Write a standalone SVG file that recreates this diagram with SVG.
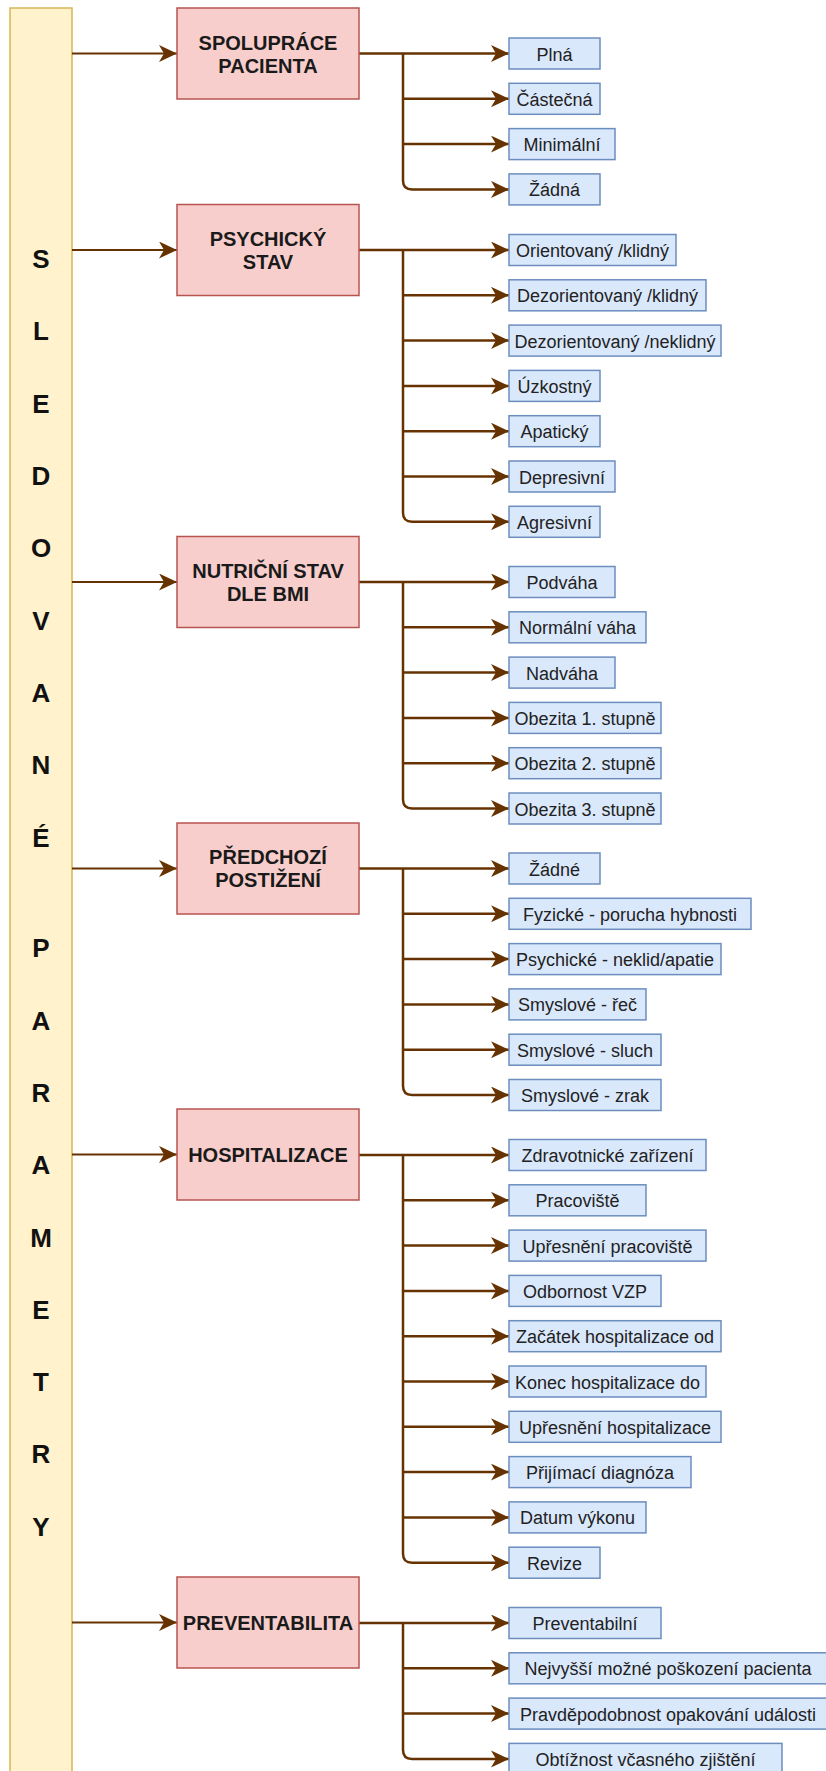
<svg xmlns="http://www.w3.org/2000/svg" width="826" height="1771" viewBox="0 0 826 1771">
  <style>
    .bar { fill: #fff2cc; stroke: #d6b656; stroke-width: 1.5; }
    .main { fill: #f8cecc; stroke: #b85450; stroke-width: 1.5; }
    .leaf { fill: #dae8fc; stroke: #6c8ebf; stroke-width: 1.5; }
    .vt { font-family: "Liberation Sans", Arial, sans-serif; font-weight: bold; font-size: 26px; fill: #111; text-anchor: middle; }
    .mt { font-family: "Liberation Sans", Arial, sans-serif; font-weight: bold; font-size: 20px; fill: #1a1a1a; text-anchor: middle; }
    .lt { font-family: "Liberation Sans", Arial, sans-serif; font-size: 18px; fill: #222; text-anchor: middle; }
    .edge { fill: none; stroke: #663300; stroke-width: 2.5; }
    .feed { fill: none; stroke: #663300; stroke-width: 2; }
  </style>
  <defs>
    <marker id="arrow" markerUnits="userSpaceOnUse" markerWidth="19" markerHeight="18" refX="18" refY="8.5" orient="auto">
      <path d="M0,0 L18,8.5 L0,17 L5,8.5 Z" fill="#663300"/>
    </marker>
  </defs>
  <rect width="826" height="1771" fill="#ffffff"/>

  <!-- vertical title bar -->
  <g id="title-bar">
    <rect class="bar" x="10" y="8" width="62" height="1780"/>
    <text class="vt" x="41" y="268">S</text>
    <text class="vt" x="41" y="340">L</text>
    <text class="vt" x="41" y="413">E</text>
    <text class="vt" x="41" y="485">D</text>
    <text class="vt" x="41" y="557">O</text>
    <text class="vt" x="41" y="630">V</text>
    <text class="vt" x="41" y="702">A</text>
    <text class="vt" x="41" y="774">N</text>
    <text class="vt" x="41" y="847">É</text>
    <text class="vt" x="41" y="957">P</text>
    <text class="vt" x="41" y="1030">A</text>
    <text class="vt" x="41" y="1102">R</text>
    <text class="vt" x="41" y="1174">A</text>
    <text class="vt" x="41" y="1247">M</text>
    <text class="vt" x="41" y="1319">E</text>
    <text class="vt" x="41" y="1391">T</text>
    <text class="vt" x="41" y="1463">R</text>
    <text class="vt" x="41" y="1536">Y</text>
  </g>

  <!-- connectors -->
  <g id="connectors">
    <!-- bar to categories -->
    <path class="feed" d="M72,53.5 H177" marker-end="url(#arrow)"/>
    <path class="feed" d="M72,250 H177" marker-end="url(#arrow)"/>
    <path class="feed" d="M72,582 H177" marker-end="url(#arrow)"/>
    <path class="feed" d="M72,868.5 H177" marker-end="url(#arrow)"/>
    <path class="feed" d="M72,1154.5 H177" marker-end="url(#arrow)"/>
    <path class="feed" d="M72,1622.5 H177" marker-end="url(#arrow)"/>

    <!-- spolupráce -->
    <path class="edge" d="M359,53.5 H509" marker-end="url(#arrow)"/>
    <path class="edge" d="M403,98.8 H509" marker-end="url(#arrow)"/>
    <path class="edge" d="M403,144.1 H509" marker-end="url(#arrow)"/>
    <path class="edge" d="M403,53.5 V180.4 Q403,189.4 412,189.4 H509" marker-end="url(#arrow)"/>

    <!-- psychický stav -->
    <path class="edge" d="M359,250 H509" marker-end="url(#arrow)"/>
    <path class="edge" d="M403,295.3 H509" marker-end="url(#arrow)"/>
    <path class="edge" d="M403,340.6 H509" marker-end="url(#arrow)"/>
    <path class="edge" d="M403,385.9 H509" marker-end="url(#arrow)"/>
    <path class="edge" d="M403,431.2 H509" marker-end="url(#arrow)"/>
    <path class="edge" d="M403,476.5 H509" marker-end="url(#arrow)"/>
    <path class="edge" d="M403,250 V512.8 Q403,521.8 412,521.8 H509" marker-end="url(#arrow)"/>

    <!-- nutriční stav -->
    <path class="edge" d="M359,582 H509" marker-end="url(#arrow)"/>
    <path class="edge" d="M403,627.3 H509" marker-end="url(#arrow)"/>
    <path class="edge" d="M403,672.6 H509" marker-end="url(#arrow)"/>
    <path class="edge" d="M403,717.9 H509" marker-end="url(#arrow)"/>
    <path class="edge" d="M403,763.2 H509" marker-end="url(#arrow)"/>
    <path class="edge" d="M403,582 V799.5 Q403,808.5 412,808.5 H509" marker-end="url(#arrow)"/>

    <!-- předchozí postižení -->
    <path class="edge" d="M359,868.5 H509" marker-end="url(#arrow)"/>
    <path class="edge" d="M403,913.8 H509" marker-end="url(#arrow)"/>
    <path class="edge" d="M403,959.1 H509" marker-end="url(#arrow)"/>
    <path class="edge" d="M403,1004.4 H509" marker-end="url(#arrow)"/>
    <path class="edge" d="M403,1049.7 H509" marker-end="url(#arrow)"/>
    <path class="edge" d="M403,868.5 V1086 Q403,1095 412,1095 H509" marker-end="url(#arrow)"/>

    <!-- hospitalizace -->
    <path class="edge" d="M359,1155 H509" marker-end="url(#arrow)"/>
    <path class="edge" d="M403,1200.3 H509" marker-end="url(#arrow)"/>
    <path class="edge" d="M403,1245.6 H509" marker-end="url(#arrow)"/>
    <path class="edge" d="M403,1290.9 H509" marker-end="url(#arrow)"/>
    <path class="edge" d="M403,1336.2 H509" marker-end="url(#arrow)"/>
    <path class="edge" d="M403,1381.5 H509" marker-end="url(#arrow)"/>
    <path class="edge" d="M403,1426.8 H509" marker-end="url(#arrow)"/>
    <path class="edge" d="M403,1472.1 H509" marker-end="url(#arrow)"/>
    <path class="edge" d="M403,1517.4 H509" marker-end="url(#arrow)"/>
    <path class="edge" d="M403,1155 V1553.7 Q403,1562.7 412,1562.7 H509" marker-end="url(#arrow)"/>

    <!-- preventabilita -->
    <path class="edge" d="M359,1623 H509" marker-end="url(#arrow)"/>
    <path class="edge" d="M403,1668.3 H509" marker-end="url(#arrow)"/>
    <path class="edge" d="M403,1713.6 H509" marker-end="url(#arrow)"/>
    <path class="edge" d="M403,1623 V1749.9 Q403,1758.9 412,1758.9 H509" marker-end="url(#arrow)"/>
  </g>

  <!-- category nodes -->
  <g id="spoluprace">
    <rect class="main" x="177" y="8" width="182" height="91"/>
    <text class="mt" x="268" y="50">SPOLUPRÁCE</text>
    <text class="mt" x="268" y="73">PACIENTA</text>
  </g>
  <g id="psychicky-stav">
    <rect class="main" x="177" y="204.5" width="182" height="91"/>
    <text class="mt" x="268" y="246">PSYCHICKÝ</text>
    <text class="mt" x="268" y="269">STAV</text>
  </g>
  <g id="nutricni-stav">
    <rect class="main" x="177" y="536.5" width="182" height="91"/>
    <text class="mt" x="268" y="578">NUTRIČNÍ STAV</text>
    <text class="mt" x="268" y="601">DLE BMI</text>
  </g>
  <g id="predchozi-postizeni">
    <rect class="main" x="177" y="823" width="182" height="91"/>
    <text class="mt" x="268" y="864">PŘEDCHOZÍ</text>
    <text class="mt" x="268" y="887">POSTIŽENÍ</text>
  </g>
  <g id="hospitalizace">
    <rect class="main" x="177" y="1109" width="182" height="91"/>
    <text class="mt" x="268" y="1162">HOSPITALIZACE</text>
  </g>
  <g id="preventabilita">
    <rect class="main" x="177" y="1577" width="182" height="91"/>
    <text class="mt" x="268" y="1630">PREVENTABILITA</text>
  </g>

  <!-- option nodes: spolupráce -->
  <g id="plna"><rect class="leaf" x="509" y="38" width="91" height="31"/><text class="lt" x="554.5" y="60.5">Plná</text></g>
  <g id="castecna"><rect class="leaf" x="509" y="83.3" width="91" height="31"/><text class="lt" x="554.5" y="105.8">Částečná</text></g>
  <g id="minimalni"><rect class="leaf" x="509" y="128.6" width="106" height="31"/><text class="lt" x="562" y="151.1">Minimální</text></g>
  <g id="zadna"><rect class="leaf" x="509" y="173.9" width="91" height="31"/><text class="lt" x="554.5" y="196.4">Žádná</text></g>

  <!-- option nodes: psychický stav -->
  <g id="orientovany-klidny"><rect class="leaf" x="509" y="234.5" width="167" height="31"/><text class="lt" x="592.5" y="257">Orientovaný /klidný</text></g>
  <g id="dezorientovany-klidny"><rect class="leaf" x="509" y="279.8" width="197" height="31"/><text class="lt" x="607.5" y="302.3">Dezorientovaný /klidný</text></g>
  <g id="dezorientovany-neklidny"><rect class="leaf" x="509" y="325.1" width="212" height="31"/><text class="lt" x="615" y="347.6">Dezorientovaný /neklidný</text></g>
  <g id="uzkostny"><rect class="leaf" x="509" y="370.4" width="91" height="31"/><text class="lt" x="554.5" y="392.9">Úzkostný</text></g>
  <g id="apaticky"><rect class="leaf" x="509" y="415.7" width="91" height="31"/><text class="lt" x="554.5" y="438.2">Apatický</text></g>
  <g id="depresivni"><rect class="leaf" x="509" y="461" width="106" height="31"/><text class="lt" x="562" y="483.5">Depresivní</text></g>
  <g id="agresivni"><rect class="leaf" x="509" y="506.3" width="91" height="31"/><text class="lt" x="554.5" y="528.8">Agresivní</text></g>

  <!-- option nodes: nutriční stav -->
  <g id="podvaha"><rect class="leaf" x="509" y="566.5" width="106" height="31"/><text class="lt" x="562" y="589">Podváha</text></g>
  <g id="normalni-vaha"><rect class="leaf" x="509" y="611.8" width="137" height="31"/><text class="lt" x="577.5" y="634.3">Normální váha</text></g>
  <g id="nadvaha"><rect class="leaf" x="509" y="657.1" width="106" height="31"/><text class="lt" x="562" y="679.6">Nadváha</text></g>
  <g id="obezita-1"><rect class="leaf" x="509" y="702.4" width="152" height="31"/><text class="lt" x="585" y="724.9">Obezita 1. stupně</text></g>
  <g id="obezita-2"><rect class="leaf" x="509" y="747.7" width="152" height="31"/><text class="lt" x="585" y="770.2">Obezita 2. stupně</text></g>
  <g id="obezita-3"><rect class="leaf" x="509" y="793" width="152" height="31"/><text class="lt" x="585" y="815.5">Obezita 3. stupně</text></g>

  <!-- option nodes: předchozí postižení -->
  <g id="zadne"><rect class="leaf" x="509" y="853" width="91" height="31"/><text class="lt" x="554.5" y="875.5">Žádné</text></g>
  <g id="fyzicke"><rect class="leaf" x="509" y="898.3" width="242" height="31"/><text class="lt" x="630" y="920.8">Fyzické - porucha hybnosti</text></g>
  <g id="psychicke"><rect class="leaf" x="509" y="943.6" width="212" height="31"/><text class="lt" x="615" y="966.1">Psychické - neklid/apatie</text></g>
  <g id="smyslove-rec"><rect class="leaf" x="509" y="988.9" width="137" height="31"/><text class="lt" x="577.5" y="1011.4">Smyslové - řeč</text></g>
  <g id="smyslove-sluch"><rect class="leaf" x="509" y="1034.2" width="152" height="31"/><text class="lt" x="585" y="1056.7">Smyslové - sluch</text></g>
  <g id="smyslove-zrak"><rect class="leaf" x="509" y="1079.5" width="152" height="31"/><text class="lt" x="585" y="1102">Smyslové - zrak</text></g>

  <!-- option nodes: hospitalizace -->
  <g id="zdravotnicke-zarizeni"><rect class="leaf" x="509" y="1139.5" width="197" height="31"/><text class="lt" x="607.5" y="1162">Zdravotnické zařízení</text></g>
  <g id="pracoviste"><rect class="leaf" x="509" y="1184.8" width="137" height="31"/><text class="lt" x="577.5" y="1207.3">Pracoviště</text></g>
  <g id="upresneni-pracoviste"><rect class="leaf" x="509" y="1230.1" width="197" height="31"/><text class="lt" x="607.5" y="1252.6">Upřesnění pracoviště</text></g>
  <g id="odbornost-vzp"><rect class="leaf" x="509" y="1275.4" width="152" height="31"/><text class="lt" x="585" y="1297.9">Odbornost VZP</text></g>
  <g id="zacatek-hospitalizace"><rect class="leaf" x="509" y="1320.7" width="212" height="31"/><text class="lt" x="615" y="1343.2">Začátek hospitalizace od</text></g>
  <g id="konec-hospitalizace"><rect class="leaf" x="509" y="1366" width="197" height="31"/><text class="lt" x="607.5" y="1388.5">Konec hospitalizace do</text></g>
  <g id="upresneni-hospitalizace"><rect class="leaf" x="509" y="1411.3" width="212" height="31"/><text class="lt" x="615" y="1433.8">Upřesnění hospitalizace</text></g>
  <g id="prijimaci-diagnoza"><rect class="leaf" x="509" y="1456.6" width="182" height="31"/><text class="lt" x="600" y="1479.1">Přijímací diagnóza</text></g>
  <g id="datum-vykonu"><rect class="leaf" x="509" y="1501.9" width="137" height="31"/><text class="lt" x="577.5" y="1524.4">Datum výkonu</text></g>
  <g id="revize"><rect class="leaf" x="509" y="1547.2" width="91" height="31"/><text class="lt" x="554.5" y="1569.7">Revize</text></g>

  <!-- option nodes: preventabilita -->
  <g id="preventabilni"><rect class="leaf" x="509" y="1607.5" width="152" height="31"/><text class="lt" x="585" y="1630">Preventabilní</text></g>
  <g id="nejvyssi-poskozeni"><rect class="leaf" x="509" y="1652.8" width="318" height="31"/><text class="lt" x="668" y="1675.3">Nejvyšší možné poškození pacienta</text></g>
  <g id="pravdepodobnost-opakovani"><rect class="leaf" x="509" y="1698.1" width="318" height="31"/><text class="lt" x="668" y="1720.6">Pravděpodobnost opakování události</text></g>
  <g id="obtiznost-zjisteni"><rect class="leaf" x="509" y="1743.4" width="273" height="31"/><text class="lt" x="645.5" y="1765.9">Obtížnost včasného zjištění</text></g>
</svg>
